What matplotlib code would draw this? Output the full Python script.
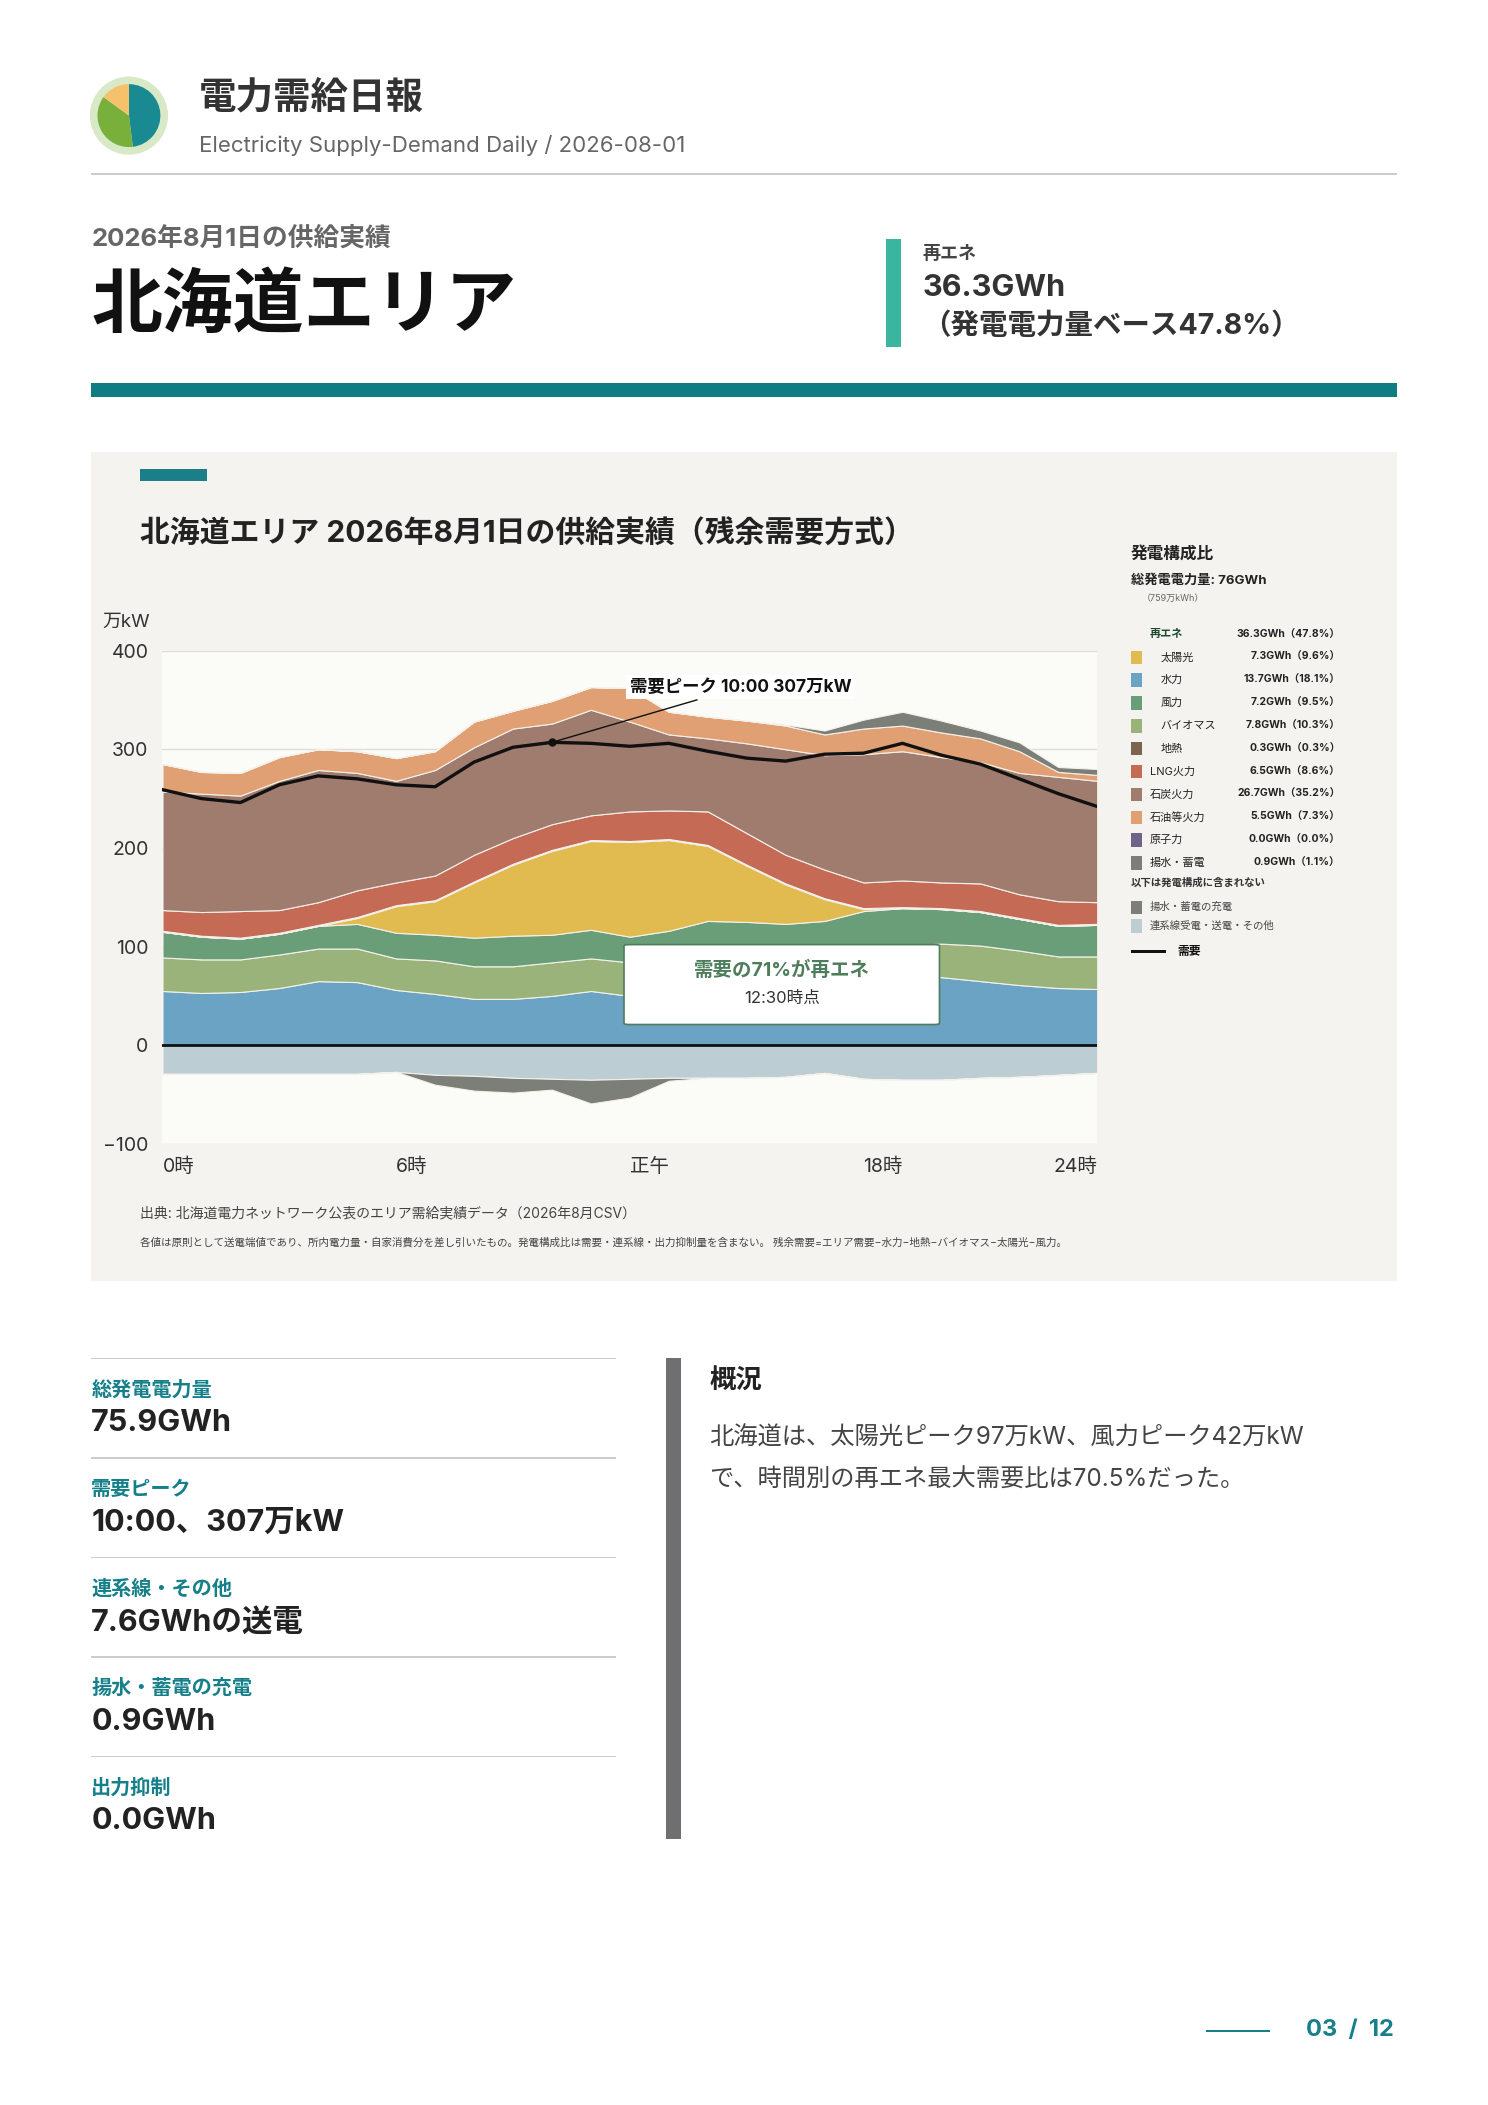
import matplotlib
matplotlib.use("Agg")
import matplotlib.pyplot as plt
import numpy as np
from matplotlib.patches import Rectangle, FancyBboxPatch, Circle

plt.rcParams['font.family'] = ['Inter', 'Noto Sans CJK JP', 'DejaVu Sans']

# ---- data (万kW, hourly 0..24) ----
hours = list(range(25))
hydro = [55, 53, 54, 58, 65, 64, 56, 52, 47, 47, 50, 55, 50, 52, 54, 59, 61, 65, 69, 70, 69, 65, 61, 58, 57]
biomass = [34, 34, 33, 34, 33, 34, 32, 34, 33, 33, 34, 33, 34, 34, 37, 34, 34, 32, 32, 31, 34, 36, 35, 32, 33]
wind = [26, 23, 21, 21, 23, 25, 26, 26, 29, 31, 28, 29, 26, 30, 35, 32, 28, 29, 35, 38, 35, 34, 32, 31, 32]
solar = [0, 0, 0, 0, 0, 6, 27, 34, 56, 72, 85, 90, 96, 92, 76, 57, 40, 22, 2, 0, 0, 0, 0, 0, 0]
geothermal = [1] * 25
lng = [21, 24, 27, 23, 23, 27, 23, 25, 27, 26, 26, 25, 30, 29, 34, 32, 29, 29, 26, 27, 26, 28, 24, 24, 22]
coal = [120, 120, 117, 131, 134, 119, 103, 107, 109, 111, 102, 107, 91, 77, 74, 91, 107, 116, 130, 131, 127, 123, 123, 126, 123]
oil = [28, 22, 23, 24, 21, 22, 23, 19, 26, 18, 23, 23, 34, 23, 22, 23, 24, 21, 26, 26, 25, 24, 22, 5, 6]
pumped = [0] * 16 + [1, 4, 9, 14, 12, 8, 9, 5, 6]
interconnect = [-29, -29, -29, -29, -29, -29, -27, -30, -31, -33, -34, -35, -34, -33, -33, -33, -32, -28, -34, -35, -35, -33, -32, -30, -28]
charge = [0, 0, 0, 0, 0, 0, 0, -10, -15, -15, -11, -24, -19, -3, 0, 0, 0, 0, 0, 0, 0, 0, 0, 0, 0]
demand = [259, 250, 246, 264, 273, 270, 264, 262, 287, 302, 307, 306, 303, 306, 298, 291, 288, 295, 296, 306, 294, 285, 270, 255, 242]

legend_rows = [
    ("太陽光", "7.3GWh（9.6%）", "#e2bb50", True),
    ("水力", "13.7GWh（18.1%）", "#6aa3c4", True),
    ("風力", "7.2GWh（9.5%）", "#6a9e78", True),
    ("バイオマス", "7.8GWh（10.3%）", "#9ab37a", True),
    ("地熱", "0.3GWh（0.3%）", "#7d6450", True),
    ("LNG火力", "6.5GWh（8.6%）", "#c46a55", False),
    ("石炭火力", "26.7GWh（35.2%）", "#a07c6e", False),
    ("石油等火力", "5.5GWh（7.3%）", "#e0a074", False),
    ("原子力", "0.0GWh（0.0%）", "#6e6488", False),
    ("揚水・蓄電", "0.9GWh（1.1%）", "#7b7f77", False),
]

stats = [("総発電電力量", "75.9GWh"), ("需要ピーク", "10:00、307万kW"),
         ("連系線・その他", "7.6GWhの送電"), ("揚水・蓄電の充電", "0.9GWh"), ("出力抑制", "0.0GWh")]

W, H = 1108, 1566
fig = plt.figure(figsize=(14.88, 21.05), dpi=100)
fig.patch.set_facecolor("white")


def T(x, y, s, size, color="#222222", weight="normal", ha="left", va="center", **kw):
    fig.text(x / W, 1 - y / H, s, fontsize=size, color=color, weight=weight, ha=ha, va=va, **kw)


def R(x0, y0, x1, y1, color, z=0):
    fig.patches.append(Rectangle((x0 / W, 1 - y1 / H), (x1 - x0) / W, (y1 - y0) / H,
                                 transform=fig.transFigure, color=color, zorder=z, lw=0))


def A(x0, y0, x1, y1):
    return [x0 / W, 1 - y1 / H, (x1 - x0) / W, (y1 - y0) / H]


# ---- header ----
lax = fig.add_axes(A(66, 56, 126, 116))
lax.set_aspect("equal")
lax.add_patch(Circle((0, 0), 1.0, color="#d7e9c6"))
lax.pie([48, 37, 15], colors=["#1a8a92", "#79b03c", "#f5c26b"], startangle=90, counterclock=False,
        radius=0.82, wedgeprops=dict(lw=0))
lax.set_xlim(-1.05, 1.05); lax.set_ylim(-1.05, 1.05); lax.axis("off")

T(148, 73, "電力需給日報", 27, "#333333", "bold")
T(148, 108, "Electricity Supply-Demand Daily / 2026-08-01", 16, "#666666")
R(68, 129, 1040, 130.5, "#cccccc")
T(68, 177, "2026年8月1日の供給実績", 18.5, "#666666", "bold")
T(68, 229, "北海道エリア", 51, "#111111", "bold")
R(660, 178, 671, 258, "#3ab5a0")
T(687, 189, "再エネ", 13, "#444444", "bold")
T(687, 214, "36.3GWh", 22, "#333333", "bold")
T(687, 243, "（発電電力量ベース47.8%）", 20.5, "#333333", "bold")
R(68, 285, 1040, 295, "#0f7b83")

# ---- chart panel ----
R(68, 336, 1040, 953, "#f4f3f0")
R(104, 349, 154, 358, "#1a7f88", 1)
T(104, 397, "北海道エリア 2026年8月1日の供給実績（残余需要方式）", 21.5, "#222222", "bold")

ax = fig.add_axes(A(121, 484, 817, 851))
ax.set_zorder(3)
ax.set_facecolor("#fbfbf8")
stack = [hydro, biomass, wind, solar, geothermal, lng, coal, oil, pumped]
colors = ["#6aa3c4", "#9ab37a", "#6a9e78", "#e2bb50", "#7d6450", "#c46a55", "#a07c6e", "#e0a074", "#7b7f77"]
ax.stackplot(hours, *stack, colors=colors, edgecolor="#f4f1ea", linewidth=0.8, zorder=2)
ax.stackplot(hours, interconnect, charge, colors=["#bccdd3", "#7b7f77"], edgecolor="#f4f1ea",
             linewidth=0.8, zorder=2)
ax.plot(hours, demand, color="#111111", lw=2.4, zorder=4)
ax.axhline(0, color="#111111", lw=2, zorder=4)
for y in [100, 200, 300, 400, -100]:
    ax.axhline(y, color="#dddddd", lw=1, zorder=1)
ax.set_xlim(0, 24); ax.set_ylim(-100, 400)
ax.set_yticks([-100, 0, 100, 200, 300, 400])
ax.set_xticks([0, 6, 12, 18, 24])
ax.set_xticklabels(["0時", "6時", "正午", "18時", "24時"])
ax.tick_params(length=0, labelsize=14, colors="#333333", pad=10)
for lbl in ax.get_xticklabels():
    lbl.set_ha("left")
ax.get_xticklabels()[-1].set_ha("right")
for sp in ax.spines.values():
    sp.set_visible(False)
T(76, 463, "万kW", 13.5, "#333333")

pk = int(np.argmax(demand))
ax.plot(hours[pk], demand[pk], "o", color="#111111", ms=5, zorder=5)
ax.annotate("需要ピーク 10:00 307万kW", xy=(hours[pk], demand[pk]), xytext=(12.0, 363),
            fontsize=12.5, weight="bold", color="#111111", va="center",
            bbox=dict(boxstyle="square,pad=0.2", fc="white", ec="none"),
            arrowprops=dict(arrowstyle="-", color="#111111", lw=1), zorder=6)
ax.add_patch(FancyBboxPatch((11.85, 21), 8.1, 81, boxstyle="round,pad=0,rounding_size=0.15",
                            fc="white", ec="#4e7d5c", lw=1.2, zorder=6, mutation_aspect=8))
ax.text(15.9, 76, "需要の71%が再エネ", fontsize=14, weight="bold", color="#4e7d5c", ha="center",
        va="center", zorder=7)
ax.text(15.9, 47, "12:30時点", fontsize=12, color="#333333", ha="center", va="center", zorder=7)

# ---- legend ----
T(842, 412, "発電構成比", 12, "#222222", "bold")
T(842, 432, "総発電電力量: 76GWh", 9.5, "#222222", "bold")
T(850, 445, "（759万kWh）", 6.5, "#666666")
T(856, 472, "再エネ", 8, "#1f4a30", "bold")
T(998, 472, "36.3GWh（47.8%）", 7.5, "#222222", "bold", ha="right")
y = 489
for name, val, col, ren in legend_rows:
    R(842, y - 5, 850, y + 5, col, 2)
    T(864 if ren else 856, y, name, 8, "#222222")
    T(998, y, val, 7.5, "#222222", "bold", ha="right")
    y += 17
T(842, 657, "以下は発電構成に含まれない", 7.5, "#333333", "bold")
R(842, 670, 850, 680, "#7b7f77", 2)
T(856, 675, "揚水・蓄電の充電", 7.5, "#444444")
R(842, 684, 850, 694, "#bccdd3", 2)
T(856, 689, "連系線受電・送電・その他", 7.5, "#444444")
R(842, 707, 868, 709, "#111111", 2)
T(877, 708, "需要", 8.5, "#111111", "bold")

T(104, 903, "出典: 北海道電力ネットワーク公表のエリア需給実績データ（2026年8月CSV）", 10, "#444444")
T(104, 924, "各値は原則として送電端値であり、所内電力量・自家消費分を差し引いたもの。発電構成比は需要・連系線・出力抑制量を含まない。"
  " 残余需要=エリア需要−水力−地熱−バイオマス−太陽光−風力。", 7.6, "#444444")

# ---- stats ----
y0 = 1010
for i, (lab, val) in enumerate(stats):
    yy = y0 + 74 * i
    R(68, yy, 459, yy + 1.2, "#cccccc")
    T(68, yy + 24, lab, 14.5, "#16808a", "bold")
    T(68, yy + 49, val, 22, "#222222", "bold")

R(496, 1010, 507, 1368, "#6f6f72")
T(528, 1028, "概況", 19, "#222222", "bold")
T(528, 1070, "北海道は、太陽光ピーク97万kW、風力ピーク42万kW", 17.5, "#444444")
T(528, 1101, "で、時間別の再エネ最大需要比は70.5%だった。", 17.5, "#444444")

R(898, 1510, 946, 1511.5, "#16808a")
T(1038, 1510, "03  /  12", 17, "#16808a", "bold", ha="right")

fig.savefig("out.png", dpi=100, facecolor=fig.get_facecolor())
